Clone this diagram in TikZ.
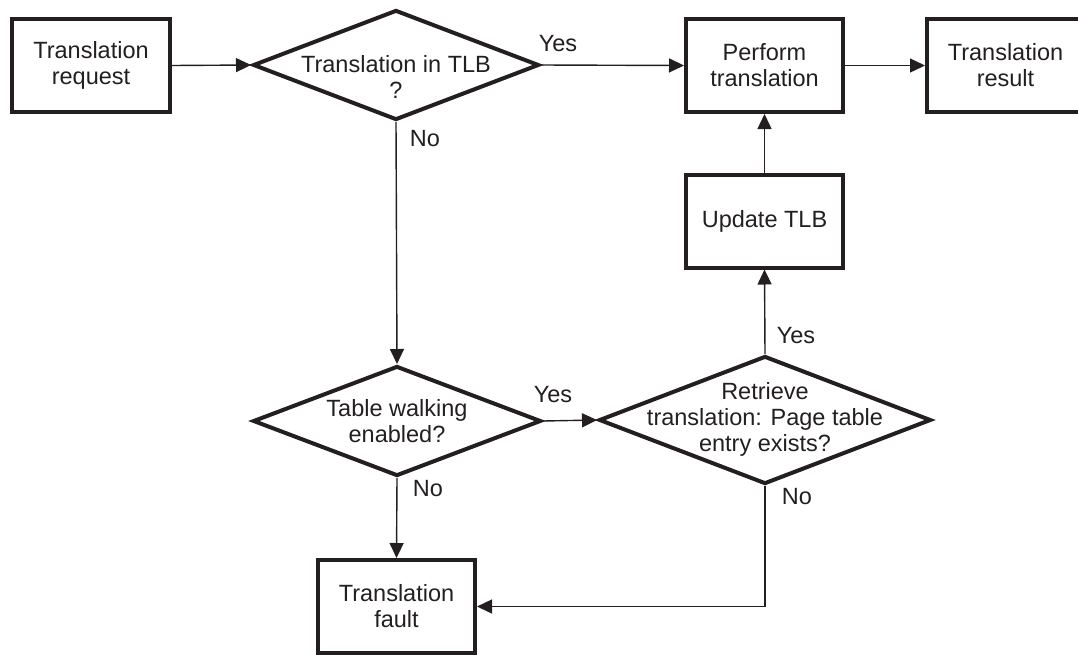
\documentclass[tikz,border=0pt]{standalone}
\usepackage{fontspec}
\setmainfont{Liberation Sans}
\usetikzlibrary{shapes.geometric,arrows.meta}
\definecolor{ink}{RGB}{35,31,32}
\begin{document}
\begin{tikzpicture}[x=1pt,y=-1pt,
  every node/.style={text=ink, font=\fontsize{23.5}{26}\selectfont},
  procbox/.style={draw=ink, line width=4pt, rectangle, minimum width=157pt, minimum height=93pt, align=center, inner sep=0pt},
  decision/.style={draw=ink, line width=4pt, diamond, inner sep=0pt},
  conn/.style={draw=ink, line width=1.4pt, -{Triangle[length=15pt,width=14pt]}},
  lbl/.style={inner sep=0pt}
]
\useasboundingbox (0,0) rectangle (1078,654);
\clip (0,0) rectangle (1078,654);

% boxes
\node[procbox, minimum width=158pt] (req) at (91,65.5) {Translation\\request};
\node[procbox] (perf) at (764.5,65.5) {Perform\\translation};
\node[procbox] (res) at (1005.5,65.5) {Translation\\result};
\node[procbox] (upd) at (764.5,221) {Update TLB};
\node[procbox] (fault) at (396.5,606.5) {Translation\\fault};

% decisions
\node[decision, minimum width=286pt, minimum height=110pt,
  label={[align=center, yshift=-12pt]center:Translation in TLB\\?}] (tlb) at (396,65) {};
\node[decision, minimum width=288pt, minimum height=110pt,
  label={[align=center]center:Table walking\\enabled?}] (walk) at (397,421) {};
\node[decision, minimum width=332pt, minimum height=128pt,
  label={[align=center, yshift=1pt]center:Retrieve\\translation: Page table\\entry exists?}] (retr) at (765,420) {};

% connectors
\draw[conn] (req.east) -- (tlb.west);
\draw[conn] (tlb.east) -- (perf.west);
\draw[conn] (perf.east) -- (res.west);
\draw[conn] (tlb.south) -- (walk.north);
\draw[conn] (walk.east) -- (retr.west);
\draw[conn] (walk.south) -- (fault.north);
\draw[conn] (retr.north) -- (upd.south);
\draw[conn] (upd.north) -- (perf.south);
\draw[conn] (retr.south) |- (fault.east);

% labels
\node[lbl] (l1) at (558,44) {Yes};
\node[lbl] (l2) at (425,139) {No};
\node[lbl] (l3) at (553,395) {Yes};
\node[lbl] (l4) at (428,489) {No};
\node[lbl] (l5) at (796,336) {Yes};
\node[lbl] (l6) at (797,497) {No};
\end{tikzpicture}
\end{document}
